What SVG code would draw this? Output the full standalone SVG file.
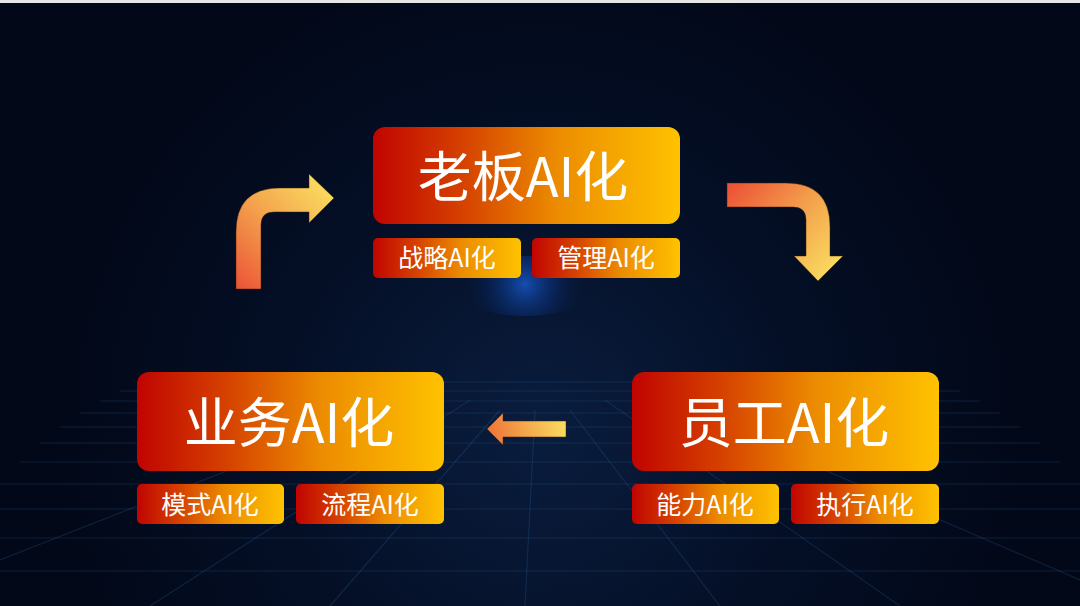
<svg xmlns="http://www.w3.org/2000/svg" width="1080" height="606" viewBox="0 0 1080 606">
<defs>
<style>
.box{fill:url(#boxGrad);}
.main{font-family:"Noto Sans CJK SC","Noto Sans",sans-serif;font-size:54px;fill:#ffffff;text-anchor:middle;}
.sub{font-family:"Noto Sans CJK SC","Noto Sans",sans-serif;font-size:25px;fill:#ffffff;text-anchor:middle;}
.grid{stroke:#2a5f95;stroke-width:1.2;fill:none;}
.arrow{stroke:#3a2408;stroke-width:0.8;stroke-opacity:0.6;}
</style>
<linearGradient id="boxGrad" x1="0" y1="0" x2="1" y2="0">
<stop offset="0" stop-color="#C00400"/>
<stop offset="0.3" stop-color="#D64300"/>
<stop offset="0.6" stop-color="#EC8C00"/>
<stop offset="1" stop-color="#FFC200"/>
</linearGradient>
<radialGradient id="bgGlow" cx="540" cy="430" r="480" gradientUnits="userSpaceOnUse">
<stop offset="0" stop-color="#0a1d3e"/>
<stop offset="0.55" stop-color="#040f26"/>
<stop offset="1" stop-color="#020818"/>
</radialGradient>
<radialGradient id="blueGlow" cx="525" cy="284" r="60" gradientUnits="userSpaceOnUse">
<stop offset="0" stop-color="#1a5cd0" stop-opacity="0.8"/>
<stop offset="0.5" stop-color="#0b3a90" stop-opacity="0.4"/>
<stop offset="1" stop-color="#061a40" stop-opacity="0"/>
</radialGradient>
<linearGradient id="a1" x1="236" y1="289" x2="334" y2="190" gradientUnits="userSpaceOnUse">
<stop offset="0" stop-color="#EC5236"/>
<stop offset="0.5" stop-color="#F3A04C"/>
<stop offset="1" stop-color="#FADF60"/>
</linearGradient>
<linearGradient id="a2" x1="727" y1="190" x2="830" y2="280" gradientUnits="userSpaceOnUse">
<stop offset="0" stop-color="#EC5236"/>
<stop offset="0.5" stop-color="#F3A04C"/>
<stop offset="1" stop-color="#FADF60"/>
</linearGradient>
<linearGradient id="a3" x1="487" y1="440" x2="566" y2="421" gradientUnits="userSpaceOnUse">
<stop offset="0" stop-color="#EE7038"/>
<stop offset="0.5" stop-color="#F4A84C"/>
<stop offset="1" stop-color="#FADF60"/>
</linearGradient>
</defs>

<g id="background">
<rect x="0" y="0" width="1080" height="606" fill="#020818"/>
<rect x="0" y="0" width="1080" height="606" fill="url(#bgGlow)"/>
<ellipse cx="525" cy="286" rx="70" ry="30" fill="url(#blueGlow)"/>
<rect x="0" y="0" width="1080" height="3" fill="#e6e6e6"/>
<g class="grid" stroke-opacity="0.28">
<line x1="140" y1="382" x2="940" y2="382"/>
<line x1="120" y1="391" x2="960" y2="391"/>
<line x1="100" y1="401" x2="980" y2="401"/>
<line x1="80" y1="413" x2="1000" y2="413"/>
<line x1="60" y1="427" x2="1020" y2="427"/>
<line x1="40" y1="443" x2="1040" y2="443"/>
<line x1="20" y1="462" x2="1060" y2="462"/>
<line x1="0" y1="484" x2="1080" y2="484"/>
<line x1="0" y1="509" x2="1080" y2="509"/>
<line x1="0" y1="538" x2="1080" y2="538"/>
<line x1="0" y1="571" x2="1080" y2="571"/>
<line x1="500" y1="410" x2="330" y2="606"/>
<line x1="470" y1="400" x2="150" y2="606"/>
<line x1="420" y1="395" x2="0" y2="560"/>
<line x1="535" y1="410" x2="525" y2="606"/>
<line x1="570" y1="410" x2="720" y2="606"/>
<line x1="605" y1="400" x2="900" y2="606"/>
<line x1="650" y1="395" x2="1080" y2="580"/>
</g>
</g>

<g id="connectors">
<path class="arrow" fill="url(#a1)" d="M236,289 L236,232 Q236,188 280,188 L309,188 L309,174 L334,198 L309,223 L309,212 L274,212 Q261,212 261,225 L261,289 Z"/>
<path class="arrow" fill="url(#a2)" d="M727,183 L786,183 Q830,183 830,227 L830,256 L843,256 L818,281 L794,256 L806,256 L806,220 Q806,207 793,207 L727,207 Z"/>
<path class="arrow" fill="url(#a3)" d="M566,421 L503,421 L503,413 L487,429 L503,445 L503,437 L566,437 Z"/>
</g>

<g id="node-boss">
<rect class="box" x="373" y="127" width="307" height="97" rx="12"/>
<text class="main" x="523" y="197">老板AI化</text>
</g>
<g id="node-strategy">
<rect class="box" x="373" y="238" width="148" height="40" rx="5"/>
<text class="sub" x="447" y="267">战略AI化</text>
</g>
<g id="node-management">
<rect class="box" x="532" y="238" width="148" height="40" rx="5"/>
<text class="sub" x="606" y="267">管理AI化</text>
</g>

<g id="node-business">
<rect class="box" x="137" y="372" width="307" height="99" rx="12"/>
<text class="main" x="289" y="443">业务AI化</text>
</g>
<g id="node-model">
<rect class="box" x="137" y="484" width="147" height="40" rx="5"/>
<text class="sub" x="210" y="514">模式AI化</text>
</g>
<g id="node-process">
<rect class="box" x="296" y="484" width="148" height="40" rx="5"/>
<text class="sub" x="370" y="514">流程AI化</text>
</g>

<g id="node-staff">
<rect class="box" x="632" y="372" width="307" height="99" rx="12"/>
<text class="main" x="784" y="443">员工AI化</text>
</g>
<g id="node-ability">
<rect class="box" x="632" y="484" width="147" height="40" rx="5"/>
<text class="sub" x="705" y="514">能力AI化</text>
</g>
<g id="node-execution">
<rect class="box" x="791" y="484" width="148" height="40" rx="5"/>
<text class="sub" x="865" y="514">执行AI化</text>
</g>
</svg>
